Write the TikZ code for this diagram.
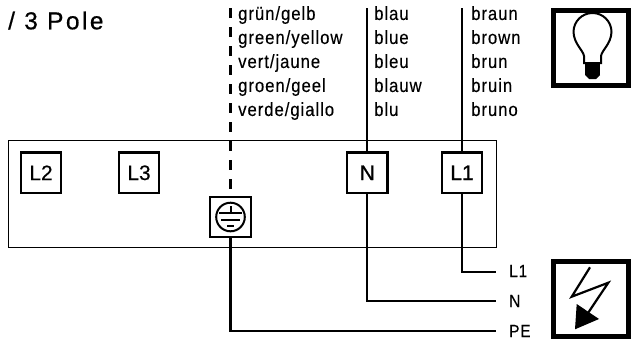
\documentclass[tikz,border=0pt]{standalone}
\usepackage{fontspec}
\setmainfont[FakeBold=0.35]{Liberation Sans}
\newfontfamily\narrowfont[FakeStretch=0.88,LetterSpace=5,FakeBold=0.25]{Liberation Sans}
\newfontfamily\widefont[LetterSpace=10,FakeBold=0.6]{Liberation Sans}
\newfontfamily\heavyfont[FakeBold=1]{Liberation Sans}
\tikzset{
    terminal/.style={draw, line width=2.2pt, minimum size=40.5pt, inner sep=0pt, font=\fontsize{21}{21}\selectfont},
    wire/.style={line width=2.2pt},
    colours/.style={font=\narrowfont\fontsize{19}{24}\selectfont, align=left, anchor=north west, inner sep=0pt},
    ending/.style={font=\narrowfont\fontsize{17.5}{18}\selectfont, anchor=west, inner sep=0pt},
    symbolbox/.style={draw, line width=5pt, minimum size=75pt, inner sep=0pt},
}
\begin{document}
\begin{tikzpicture}[x=1pt, y=-1pt]
    \useasboundingbox (0,0) rectangle (631,343);

    \node[font=\widefont\fontsize{24.5}{25}\selectfont, anchor=base west, inner sep=0pt] (title) at (8,29.3) {/ 3 Pole};

    % terminal strip
    \draw[line width=1pt] (8,140) rectangle (496,247.5);
    \node[terminal] (L2) at (41,172.8) {L2};
    \node[terminal] (L3) at (139,172.8) {L3};
    \node[terminal, font=\heavyfont\fontsize{21}{21}\selectfont] (N) at (367.3,172.8) {N};
    \node[terminal, font=\heavyfont\fontsize{21}{21}\selectfont] (L1) at (462,172.8) {L1};
    \node[terminal] (PE) at (230.5,217) {};

    % earth sign
    \draw[line width=2pt] (PE) circle (14.3);
    \draw[line width=2pt] (230.5,206) -- (230.5,213);
    \draw[line width=2pt] (219,213) -- (242,213);
    \draw[line width=2pt] (221,219.5) -- (240,219.5);
    \draw[line width=2pt] (227,226) -- (234,226);

    % colours
    \node[colours] (greenyellow) at (238,6) {grün/gelb\\green/yellow\\vert/jaune\\groen/geel\\verde/giallo};
    \node[colours] (blue) at (374,6) {blau\\blue\\bleu\\blauw\\blu};
    \node[colours] (brown) at (471,6) {braun\\brown\\brun\\bruin\\bruno};

    % wires
    \coordinate (topPE) at (230.5,8);
    \coordinate (topN) at (367.3,8);
    \coordinate (topL1) at (462,8);
    \coordinate (endL1) at (496,272);
    \coordinate (endN) at (496,301);
    \coordinate (endPE) at (496,330.7);
    \draw[wire, dash pattern=on 9.5pt off 9.5pt] (topPE) -- (PE);
    \draw[wire] (topN) -- (N);
    \draw[wire] (topL1) -- (L1);
    \draw[wire] (L1) |- (endL1);
    \draw[wire] (N) |- (endN);
    \draw[wire] (PE) |- (endPE);
    \node[ending] (labL1) at (509,271) {L1};
    \node[ending] (labN) at (509,301) {N};
    \node[ending] (labPE) at (509,331) {PE};

    % lamp
    \node[symbolbox] (lamp) at (591,48) {};
    \draw[line width=2pt] (584,63) -- (584,56) .. controls (583,50) and (574,44) .. (573.5,32) arc (180:360:19) .. controls (611,44) and (602,50) .. (601,56) -- (601,63) -- cycle;
    \fill (585,63) rectangle (600,75);
    \fill (585,75) -- (600,75) -- (596,79) -- (589,79) -- cycle;

    % flash
    \node[symbolbox] (flash) at (591,299) {};
    \draw[line width=2.2pt] (590,267.3) -- (571.7,296.7) -- (608.3,282.7) -- (588,313);
    \fill (576.7,304) -- (599,319) -- (575,329.3) -- cycle;
\end{tikzpicture}
\end{document}
